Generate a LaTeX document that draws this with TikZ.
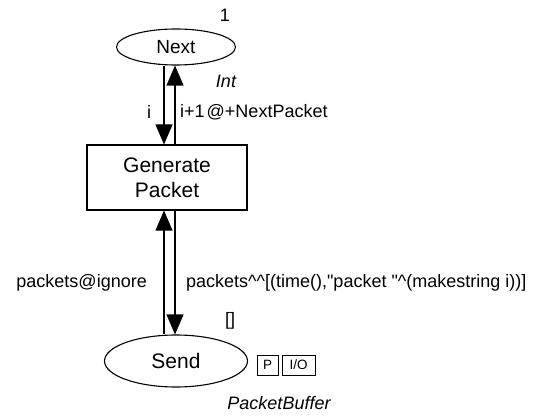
\documentclass[tikz,border=0pt]{standalone}
\usepackage{fontspec}
\setmainfont{Liberation Sans}
\usetikzlibrary{shapes.geometric,arrows.meta}
\begin{document}
\begin{tikzpicture}[x=1pt,y=-1pt,font=\fontsize{18}{21}\selectfont,
  place/.style={ellipse,draw,line width=1.1pt,inner sep=0pt},
  trans/.style={rectangle,draw,line width=1.1pt,inner sep=0pt,align=center},
  arc/.style={line width=1.1pt,-{Triangle[length=20pt,width=17pt]}},
  lbl/.style={inner sep=0pt},
  big/.style={font=\fontsize{21}{25}\selectfont},
  tag/.style={draw,line width=0.9pt,inner sep=0pt,minimum height=20pt,font=\fontsize{13.5}{15}\selectfont}]
\useasboundingbox (0,0) rectangle (544,417);
\node[place,minimum width=119pt,minimum height=36pt,font=\fontsize{19}{22}\selectfont] (next) at (176,47) {Next};
\node[trans,big,minimum width=160pt,minimum height=65pt] (gen) at (167,177.5) {Generate\\Packet};
\node[place,big,minimum width=143pt,minimum height=52pt] (send) at (176,361) {Send};
\node[tag,minimum width=21pt] (p) at (267.5,365) {P};
\node[tag,minimum width=33pt] (io) at (298.5,365) {I/O};
% arcs
\draw[arc] ([xshift=-12pt]next.south) -- ([xshift=-12pt]next.south |- gen.north);
\draw[arc] ([xshift=-1pt]next.south |- gen.north) -- ([xshift=-1pt]next.south);
\draw[arc] ([xshift=-12pt]send.north) -- ([xshift=-12pt]send.north |- gen.south);
\draw[arc] ([xshift=-1pt]send.north |- gen.south) -- ([xshift=-1pt]send.north);
% labels
\node[lbl] (init1) at (225,15) {1};
\node[lbl,font=\fontsize{18}{21}\selectfont\itshape] (int) at (226,81) {Int};
\node[lbl] (li) at (149,112) {i};
\node[lbl,anchor=west] (lnext) at (180,112) {i+1\hspace{2pt}@+NextPacket};
\node[lbl,anchor=east] (lign) at (147,283) {packets@ignore};
\node[lbl,anchor=west] (lpk) at (186,283) {packets\textasciicircum\textasciicircum[(time(),\textquotedbl packet \textquotedbl\textasciicircum(makestring i))]};
\node[lbl] (init2) at (230,321) {[]};
\node[lbl,font=\fontsize{18}{21}\selectfont\itshape] (pb) at (279,403) {PacketBuffer};
\end{tikzpicture}
\end{document}
